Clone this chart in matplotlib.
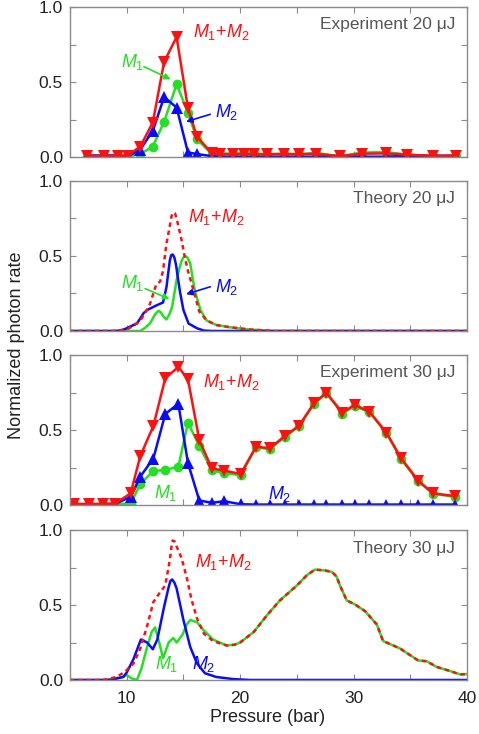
import numpy as np
import matplotlib
matplotlib.use("Agg")
import matplotlib.pyplot as plt

plt.rcParams['font.family'] = ['Liberation Sans', 'DejaVu Sans']
plt.rcParams['mathtext.fontset'] = 'custom'
plt.rcParams['mathtext.rm'] = 'Liberation Sans'
plt.rcParams['mathtext.it'] = 'Liberation Sans:italic'

RED = '#ff1010'
GREEN = '#22e022'
BLUE = '#0a0aff'
GRAY = '#8a8a8a'

# ---------------- Experiment 20 uJ ----------------
p_exp20 = [6.5, 8.0, 9.2, 10.1, 11.2, 12.3, 13.3, 14.4, 15.4, 16.2, 17.5, 18.2, 19.4,
           20.3, 21.2, 22.4, 23.9, 25.2, 26.7, 28.8, 30.7, 32.9, 34.7, 37.0, 39.0]
sum_exp20 = [0.005, 0.005, 0.008, 0.01, 0.07, 0.23, 0.635, 0.80, 0.325, 0.135, 0.025, 0.017, 0.018,
             0.02, 0.018, 0.017, 0.02, 0.017, 0.022, 0.004, 0.022, 0.024, 0.015, 0.007, 0.008]
m1_exp20 = [0.0, 0.0, 0.0, 0.005, 0.02, 0.07, 0.235, 0.485, 0.295, 0.118, 0.02, 0.025, 0.022,
            0.032, 0.022, 0.02, 0.022, 0.02, 0.027, 0.005, 0.03, 0.032, 0.017, 0.006, 0.01]
m2_exp20 = [0.01, 0.01, 0.01, 0.005, 0.05, 0.175, 0.40, 0.33, 0.03, 0.02, 0.005, 0.002, 0.002,
            0.002, 0.002, 0.002, 0.002, 0.002, 0.002, 0.008, 0.002, 0.002, 0.008, 0.008, 0.008]

# ---------------- Theory 20 uJ ----------------
p_th20_m2 = [5.0, 9.0, 9.5, 10.0, 10.6, 10.9, 11.5, 11.8, 12.6, 13.2, 13.5, 13.65, 13.8, 13.92,
             14.06, 14.2, 14.35, 14.5, 14.7, 15.0, 15.45, 16.2, 16.8, 17.5, 40.0]
m2_th20 = [0.0, 0.0, 0.004, 0.018, 0.04, 0.05, 0.12, 0.14, 0.17, 0.19, 0.29, 0.38, 0.47, 0.505,
           0.51, 0.49, 0.44, 0.36, 0.26, 0.14, 0.05, 0.018, 0.003, 0.0, 0.0]
p_th20_m1 = [5.0, 11.2, 11.6, 12.05, 12.5, 12.8, 13.0, 13.2, 13.5, 13.75, 14.0, 14.4, 14.65,
             14.85, 15.0, 15.15, 15.35, 15.6, 16.0, 16.5, 17.05]
m1_th20 = [0.0, 0.0, 0.02, 0.05, 0.11, 0.135, 0.125, 0.10, 0.077, 0.11, 0.16, 0.34, 0.42,
           0.47, 0.49, 0.50, 0.49, 0.45, 0.27, 0.14, 0.07]
p_th20_sum = [5.0, 8.8, 10.0, 10.6, 11.2, 11.7, 12.05, 12.6, 12.95, 13.2, 13.5, 13.8, 13.95,
              14.1, 14.25, 14.4, 14.8, 15.1, 15.4, 15.9, 16.4, 17.05]
sum_th20 = [0.0, 0.0, 0.01, 0.035, 0.07, 0.13, 0.18, 0.31, 0.33, 0.40, 0.58, 0.70, 0.765,
            0.79, 0.785, 0.75, 0.62, 0.50, 0.40, 0.27, 0.13, 0.07]
p_th20_tail = [17.9, 19.1, 20.8, 23.0, 40.0]
tail_th20 = [0.04, 0.025, 0.01, 0.0, 0.0]

# ---------------- Experiment 30 uJ ----------------
p_exp30 = [5.35, 6.7, 7.9, 9.0, 10.35, 11.2, 12.35, 13.4, 14.55, 15.4, 16.4, 17.5, 18.6, 20.05,
           21.4, 22.6, 23.95, 25.2, 26.5, 27.6, 29.0, 30.1, 31.4, 32.9, 34.2, 35.7, 37.0, 38.9]
sum_exp30 = [0.007, 0.007, 0.007, 0.01, 0.078, 0.327, 0.527, 0.845, 0.92, 0.838, 0.433, 0.244,
             0.229, 0.207, 0.389, 0.378, 0.46, 0.529, 0.678, 0.749, 0.616, 0.667, 0.622, 0.482,
             0.311, 0.162, 0.078, 0.06]
m1_exp30 = [0.0, 0.0, 0.0, 0.005, 0.01, 0.14, 0.227, 0.233, 0.255, 0.549, 0.393, 0.233, 0.211,
            0.20, 0.385, 0.372, 0.455, 0.525, 0.672, 0.745, 0.61, 0.66, 0.618, 0.478, 0.305,
            0.158, 0.075, 0.055]
m2_exp30 = [0.005, 0.005, 0.005, 0.008, 0.055, 0.19, 0.31, 0.607, 0.675, 0.28, 0.03, 0.015,
            0.025, 0.005, 0.003, 0.003, 0.003, 0.003, 0.003, 0.003, 0.003, 0.003, 0.003, 0.003,
            0.003, 0.003, 0.003, 0.003]

# ---------------- Theory 30 uJ ----------------
p_th30_m2 = [5.0, 8.5, 9.7, 10.0, 10.6, 10.9, 11.25, 11.8, 12.3, 12.7, 13.3, 13.7, 13.85, 14.0,
             14.2, 14.4, 15.0, 15.6, 16.2, 16.9, 17.9, 19.4, 20.9, 40.0]
m2_th30 = [0.0, 0.0, 0.02, 0.05, 0.14, 0.2, 0.27, 0.25, 0.205, 0.27, 0.49, 0.62, 0.66, 0.67,
           0.65, 0.61, 0.40, 0.22, 0.11, 0.045, 0.02, 0.006, 0.0, 0.0]
p_th30_m1 = [5.0, 8.0, 9.0, 9.6, 10.0, 10.45, 10.9, 11.3, 11.8, 12.2, 12.5, 12.9, 13.2, 13.7,
             14.1, 14.4, 14.9, 15.3, 15.6, 16.2, 16.8, 17.6, 18.2]
m1_th30 = [0.0, 0.0, 0.01, 0.02, 0.033, 0.01, 0.0, 0.077, 0.22, 0.32, 0.35, 0.24, 0.145, 0.25,
           0.28, 0.25, 0.30, 0.37, 0.40, 0.385, 0.33, 0.27, 0.25]
p_th30_sum = [5.0, 7.9, 9.1, 9.85, 10.6, 11.2, 11.8, 12.35, 12.9, 13.4, 13.8, 13.95, 14.05,
              14.2, 14.4, 14.85, 15.3, 15.7, 16.2, 16.8, 17.6, 18.2]
sum_th30 = [0.0, 0.0, 0.02, 0.055, 0.11, 0.21, 0.36, 0.52, 0.58, 0.63, 0.80, 0.89, 0.93,
            0.925, 0.89, 0.81, 0.68, 0.54, 0.41, 0.31, 0.26, 0.245]
p_th30_tail = [18.8, 19.5, 20.0, 21.2, 22.35, 23.5, 25.0, 25.9, 26.6, 27.5, 28.1, 28.5, 28.8,
               29.4, 30.1, 31.0, 32.05, 32.6, 33.2, 34.1, 34.8, 35.7, 36.45, 37.3, 38.5, 39.4, 40.0]
tail_th30 = [0.23, 0.235, 0.25, 0.32, 0.43, 0.53, 0.63, 0.70, 0.736, 0.73, 0.72, 0.69, 0.63,
             0.53, 0.505, 0.46, 0.37, 0.26, 0.24, 0.21, 0.175, 0.13, 0.125, 0.088, 0.06, 0.037, 0.04]

fig = plt.figure(figsize=(4.79, 7.34), dpi=100)

left, width, height = 70 / 479, 397 / 479, 150 / 734
bottoms = [1 - 157 / 734, 1 - 331 / 734, 1 - 505 / 734, 1 - 680 / 734]
titles = ['Experiment 20 μJ', 'Theory 20 μJ', 'Experiment 30 μJ', 'Theory 30 μJ']

axes = []
for i, b in enumerate(bottoms):
    ax = fig.add_axes([left, b, width, height])
    ax.set_xlim(5, 40)
    ax.set_ylim(0, 1.0)
    ax.set_xticks([10, 20, 30, 40])
    ax.set_xticks([5, 15, 25, 35], minor=True)
    ax.set_yticks([0, 0.5, 1.0])
    ax.set_yticks([0.25, 0.75], minor=True)
    ax.set_yticklabels(['0.0', '0.5', '1.0'])
    ax.tick_params(which='both', direction='in', top=True, right=True, length=4,
                   width=0.8, color=GRAY, labelsize=12.5, labelcolor='#222222')
    ax.tick_params(axis='x', pad=8)
    ax.tick_params(axis='y', pad=5)
    if i < 3:
        ax.set_xticklabels([])
    for s in ax.spines.values():
        s.set_color(GRAY)
        s.set_linewidth(1.0)
    ax.text(0.97, 0.88, titles[i], transform=ax.transAxes, ha='right', va='center',
            fontsize=12.5, color='#555555')
    axes.append(ax)

lw = 1.8
mk = dict(markersize=8, markeredgewidth=0)
mc = dict(markersize=7, markeredgewidth=0)
fs = 13

# panel 1
ax = axes[0]
ax.plot(p_exp20, m1_exp20, '-o', color=GREEN, lw=lw, **mc)
ax.plot(p_exp20, m2_exp20, '-^', color=BLUE, lw=lw, **mk)
ax.plot(p_exp20, sum_exp20, '-v', color=RED, lw=lw, **mk)
ax.text(15.85, 0.83, r'$M_1$+$M_2$', color=RED, fontsize=fs, va='center')
ax.text(9.5, 0.63, r'$M_1$', color=GREEN, fontsize=fs, va='center')
ax.annotate('', xy=(14.1, 0.51), xytext=(11.3, 0.61),
            arrowprops=dict(arrowstyle='-|>', color=GREEN, lw=1.2, mutation_scale=9))
ax.text(17.8, 0.30, r'$M_2$', color=BLUE, fontsize=fs, va='center')
ax.annotate('', xy=(15.0, 0.23), xytext=(17.6, 0.29),
            arrowprops=dict(arrowstyle='-|>', color=BLUE, lw=1.2, mutation_scale=9))

# panel 2
ax = axes[1]
ax.plot(p_th20_m1 + p_th20_tail, m1_th20 + tail_th20, color=GREEN, lw=lw)
ax.plot(p_th20_m2, m2_th20, color=BLUE, lw=lw)
ax.plot(p_th20_sum + p_th20_tail, sum_th20 + tail_th20, color=RED, lw=lw,
        linestyle=(0, (1.8, 1.5)))
ax.text(15.4, 0.76, r'$M_1$+$M_2$', color=RED, fontsize=fs, va='center')
ax.text(9.5, 0.32, r'$M_1$', color=GREEN, fontsize=fs, va='center')
ax.annotate('', xy=(14.0, 0.205), xytext=(11.4, 0.29),
            arrowprops=dict(arrowstyle='-|>', color=GREEN, lw=1.2, mutation_scale=9))
ax.text(17.8, 0.29, r'$M_2$', color=BLUE, fontsize=fs, va='center')
ax.annotate('', xy=(15.0, 0.24), xytext=(17.6, 0.30),
            arrowprops=dict(arrowstyle='-|>', color=BLUE, lw=1.2, mutation_scale=9))

# panel 3
ax = axes[2]
ax.plot(p_exp30, m1_exp30, '-o', color=GREEN, lw=lw, **mc)
ax.plot(p_exp30, m2_exp30, '-^', color=BLUE, lw=lw, **mk)
ax.plot(p_exp30, sum_exp30, '-v', color=RED, lw=lw, **mk)
ax.text(16.7, 0.82, r'$M_1$+$M_2$', color=RED, fontsize=fs, va='center')
ax.text(13.4, 0.08, r'$M_1$', color=GREEN, fontsize=fs, va='center', ha='center')
ax.text(23.5, 0.075, r'$M_2$', color=BLUE, fontsize=fs, va='center', ha='center')

# panel 4
ax = axes[3]
ax.plot(p_th30_m1 + p_th30_tail, m1_th30 + tail_th30, color=GREEN, lw=lw)
ax.plot(p_th30_m2, m2_th30, color=BLUE, lw=lw)
ax.plot(p_th30_sum + p_th30_tail, sum_th30 + tail_th30, color=RED, lw=lw,
        linestyle=(0, (1.8, 1.5)))
ax.text(16.0, 0.79, r'$M_1$+$M_2$', color=RED, fontsize=fs, va='center')
ax.text(13.5, 0.105, r'$M_1$', color=GREEN, fontsize=fs, va='center', ha='center')
ax.text(16.75, 0.105, r'$M_2$', color=BLUE, fontsize=fs, va='center', ha='center')
ax.set_xticklabels(['10', '20', '30', '40'])

fig.text(268 / 479, 1 - 718 / 734, 'Pressure (bar)', ha='center', va='center',
         fontsize=13, color='#222222')
fig.text(17 / 479, 1 - 345 / 734, 'Normalized photon rate', ha='center', va='center',
         rotation=90, fontsize=13, color='#222222')

fig.savefig('out.png', dpi=100)
